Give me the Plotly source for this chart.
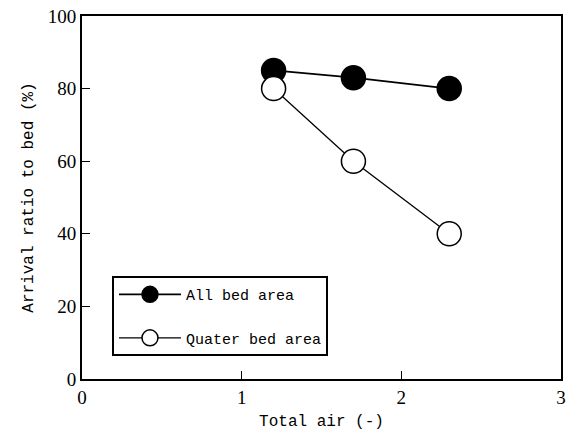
import plotly.graph_objects as go

total_air = [1.2, 1.7, 2.3]
all_bed = [85, 83, 80]
quater_bed = [80, 60, 40]
x_ticks = [0, 1, 2, 3]
y_ticks = [0, 20, 40, 60, 80, 100]

mono = "Liberation Mono"
serif = "Liberation Serif"

fig = go.Figure()
fig.add_trace(go.Scatter(
    x=total_air, y=all_bed, mode="lines+markers", name="All bed area",
    legendgroup="a",
    line=dict(color="black", width=1.8),
    marker=dict(symbol="circle", size=24, color="black", line=dict(color="black", width=1.5)),
))
fig.add_trace(go.Scatter(
    x=total_air, y=quater_bed, mode="lines+markers", name="Quater bed area",
    legendgroup="b",
    line=dict(color="black", width=1.3),
    marker=dict(symbol="circle", size=24, color="white", line=dict(color="black", width=1.5)),
))

fig.update_layout(
    width=578, height=439,
    margin=dict(l=82, r=17, t=16, b=60, autoexpand=False),
    paper_bgcolor="white", plot_bgcolor="white",
    showlegend=True,
    legend=dict(
        x=0.063, y=0.283, xanchor="left", yanchor="top",
        bordercolor="black", borderwidth=1.8, bgcolor="white",
        font=dict(family=mono, size=15, color="black"),
        itemwidth=62, traceorder="grouped", tracegroupgap=21,
    ),
    font=dict(family=serif, color="black"),
)
fig.update_xaxes(
    range=[0, 3], tickvals=x_ticks, ticktext=[str(v) for v in x_ticks],
    automargin=False,
    showgrid=False, zeroline=False, showline=True, linecolor="black", linewidth=1.8,
    mirror=True, ticks="inside", ticklen=8, tickwidth=1.2, tickcolor="black",
    tickfont=dict(family=serif, size=19, color="black"),
    title=dict(text="Total air (-)", font=dict(family=mono, size=16, color="black"), standoff=8),
)
fig.update_yaxes(
    range=[0, 100], tickvals=y_ticks, ticktext=[str(v) for v in y_ticks],
    automargin=False,
    showgrid=False, zeroline=False, showline=True, linecolor="black", linewidth=1.8,
    mirror=True, ticks="inside", ticklen=8, tickwidth=1.2, tickcolor="black",
    tickfont=dict(family=serif, size=19, color="black"),
    title=dict(text="Arrival ratio to bed (%)", font=dict(family=mono, size=16, color="black"), standoff=10),
)

fig.write_html("out.html")
